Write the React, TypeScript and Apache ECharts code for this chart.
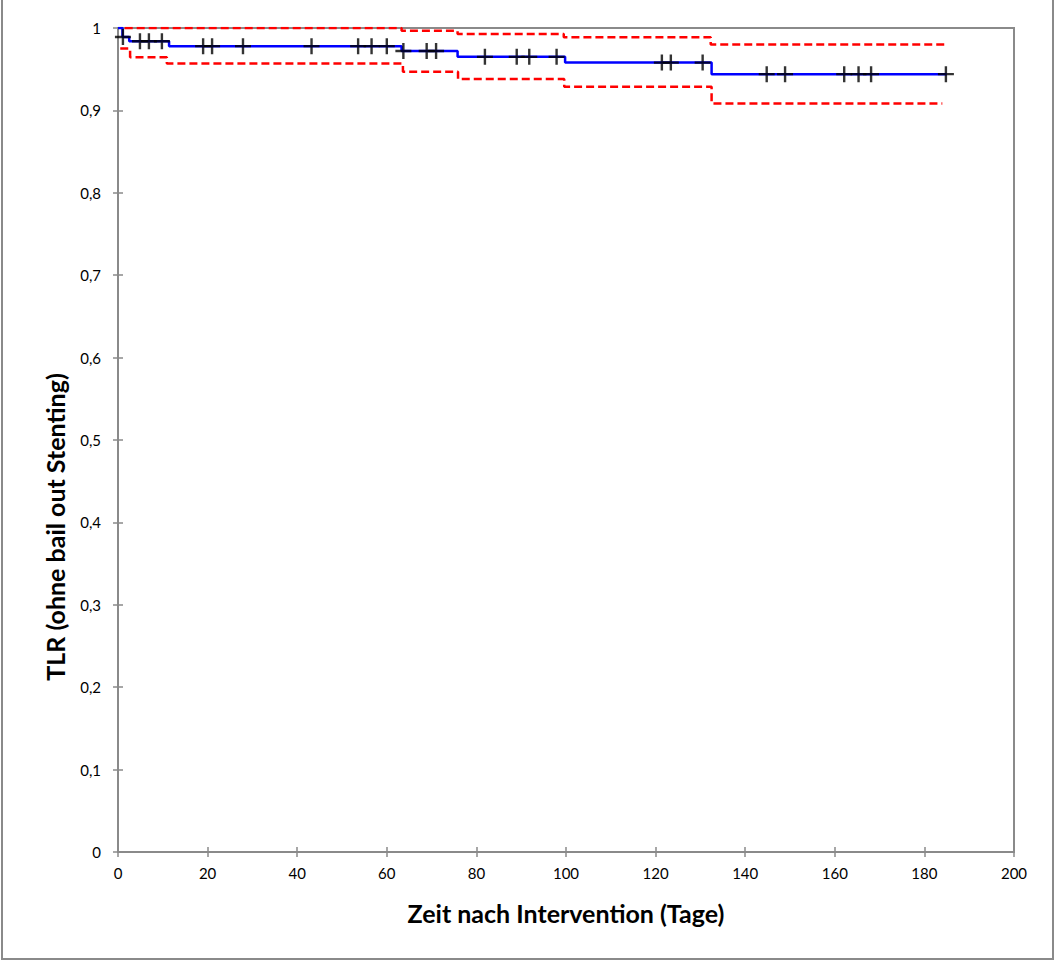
import React, { useEffect, useRef } from "react";
import * as echarts from "echarts";

// Kaplan-Meier estimate (step points: time, value after the step)
const kmTimes = [0, 1, 2.5, 11.4, 63.3, 75.8, 99.8, 132.5, 185];
const kmValues = [1, 0.989, 0.984, 0.978, 0.972, 0.965, 0.958, 0.944, 0.944];

// Upper confidence limit
const upperTimes = [1.5, 63.3, 75.8, 99.5, 132.3, 185];
const upperValues = [1, 0.9966, 0.9927, 0.9887, 0.98, 0.98];

// Lower confidence limit
const lowerTimes = [0.5, 2.7, 10.9, 63.6, 75.9, 99.6, 132.5, 184];
const lowerValues = [0.975, 0.9644, 0.957, 0.947, 0.938, 0.9287, 0.9085, 0.9085];

// Censored observations
const censorTimes = [1.1, 4.9, 6.9, 9.8, 19.0, 21.0, 27.9, 43.2, 53.6, 56.6, 60.0, 63.7, 68.9, 71.0, 81.9, 89.0, 91.8, 97.9, 121.4, 123.4, 130.5, 144.8, 148.9, 162.1, 165.3, 168.1, 184.8];
const censorValues = [0.989, 0.984, 0.984, 0.984, 0.978, 0.978, 0.978, 0.978, 0.978, 0.978, 0.978, 0.972, 0.972, 0.972, 0.965, 0.965, 0.965, 0.965, 0.958, 0.958, 0.958, 0.944, 0.944, 0.944, 0.944, 0.944, 0.944];

const xTicks = { min: 0, max: 200, interval: 20 };
const yTicks = { min: 0, max: 1, interval: 0.1 };

const xTitle = "Zeit nach Intervention (Tage)";
const yTitle = "TLR (ohne bail out Stenting)";

const FONT = "Lato";
const GRAY = "#8a8a8a";

const zip = (a: number[], b: number[]) => a.map((t, i) => [t, b[i]]);

const plusPath = "path://M6.8,0h2.4v6.8h6.8v2.4h-6.8v6.8h-2.4v-6.8h-6.8v-2.4h6.8z";

export default function App() {
  const ref = useRef<HTMLDivElement>(null);
  useEffect(() => {
    if (!ref.current) return;
    const chart = echarts.init(ref.current, undefined, { renderer: "svg" });
    const yFmt = (v: number) => (v === 0 || v === 1 ? String(v) : v.toFixed(1).replace(".", ","));
    const grid = { left: 118, top: 28, right: 43, bottom: 109, show: true, borderColor: GRAY, borderWidth: 2, backgroundColor: "transparent" };
    chart.setOption({
      animation: false,
      textStyle: { fontFamily: FONT },
      grid: [grid],
      xAxis: [
        {
          type: "value", ...xTicks, gridIndex: 0,
          axisLine: { show: true, lineStyle: { color: GRAY, width: 2 } },
          axisTick: { show: true, length: 5, lineStyle: { color: GRAY, width: 1.5 } },
          axisLabel: { color: "#000", fontSize: 15, fontFamily: FONT, margin: 13 },
          splitLine: { show: false },
        },
        {
          type: "value", ...xTicks, gridIndex: 0, position: "bottom",
          axisLine: { show: false },
          axisTick: { show: true, inside: true, length: 5, lineStyle: { color: GRAY, width: 1.5 } },
          axisLabel: { show: false },
          splitLine: { show: false },
        },
      ],
      yAxis: [
        {
          type: "value", ...yTicks, gridIndex: 0,
          axisLine: { show: true, lineStyle: { color: GRAY, width: 2 } },
          axisTick: { show: true, length: 5, lineStyle: { color: GRAY, width: 1.5 } },
          axisLabel: { color: "#000", fontSize: 15, fontFamily: FONT, margin: 17, formatter: yFmt },
          splitLine: { show: false },
        },
        {
          type: "value", ...yTicks, gridIndex: 0, position: "left",
          axisLine: { show: false },
          axisTick: { show: true, inside: true, length: 5, lineStyle: { color: GRAY, width: 1.5 } },
          axisLabel: { show: false },
          splitLine: { show: false },
        },
      ],
      graphic: [
        { type: "rect", shape: { x: 2, y: -5, width: 1051, height: 964 }, style: { fill: "none", stroke: GRAY, lineWidth: 2 }, silent: true, z: -10 },
        { type: "text", x: 566, y: 913, style: { text: xTitle, font: `bold 25px ${FONT}`, fill: "#000", textAlign: "center", textVerticalAlign: "middle" } },
        { type: "text", x: 55, y: 527, rotation: Math.PI / 2, style: { text: yTitle, font: `bold 25px ${FONT}`, fill: "#000", textAlign: "center", textVerticalAlign: "middle" } },
      ],
      series: [
        {
          type: "line", step: "end", data: zip(upperTimes, upperValues), symbol: "none",
          lineStyle: { color: "#ff0000", width: 2.5, type: [8, 4] }, z: 3,
        },
        {
          type: "line", step: "end", data: zip(lowerTimes, lowerValues), symbol: "none",
          lineStyle: { color: "#ff0000", width: 2.5, type: [8, 4] }, z: 3,
        },
        {
          type: "line", step: "end", data: zip(kmTimes, kmValues), symbol: "none",
          lineStyle: { color: "#0000ff", width: 2.5 }, z: 4,
        },
        {
          type: "scatter", data: zip(censorTimes, censorValues), symbol: plusPath, symbolSize: 16,
          itemStyle: { color: "#000" }, z: 5,
        },
      ],
    });
    return () => chart.dispose();
  }, []);
  return <div ref={ref} style={{ position: "fixed", left: 0, top: 0, width: 1057, height: 961, background: "#fff" }} />;
}
